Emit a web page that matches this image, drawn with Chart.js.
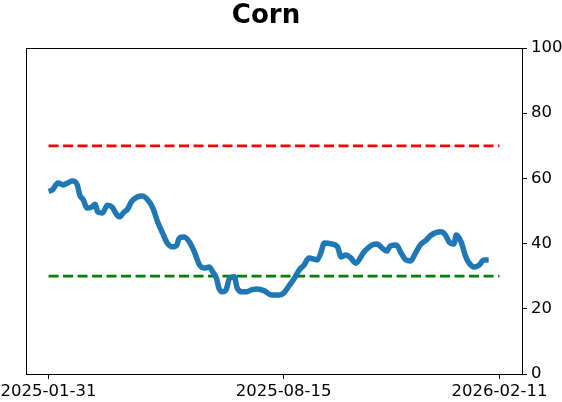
<!DOCTYPE html>
<html>
<head>
  <meta charset="UTF-8">
  <title>Corn</title>
  <script src="https://cdn.jsdelivr.net/npm/chart.js"></script>
  <style>
    html, body {
      margin: 0;
      padding: 0;
      background: #fff;
    }

    #wrap {
      width: 562px;
      height: 402px;
    }
  </style>
</head>
<body>
  <div id="wrap">
    <canvas id="cornChart" width="562" height="402"></canvas>
  </div>

  <script>
    // days counted from the first date
    const startDate = "2025-01-31";
    const days = [
      0, 3, 8, 12, 16, 20, 24, 26, 29, 32, 36, 39, 41, 45, 49, 53, 57, 59, 63, 66,
      69, 74, 78, 82, 87, 91, 95, 99, 103, 107, 109, 113, 118, 122, 126, 130, 134, 137, 140, 142,
      145, 148, 151, 155, 157, 161, 165, 169, 174, 180, 186, 192, 196, 201, 205, 209, 213, 217, 224, 227,
      230, 236, 241, 244, 248, 252, 256, 263, 270, 274, 278, 282, 285, 290, 294, 298, 302, 306, 310, 315,
      319, 327, 331, 334, 338, 340, 344, 348, 350, 355, 359, 363, 367
    ];
    const values = [
      56.1, 56.4, 58.6, 58.0, 58.6, 59.2, 58.0, 54.9, 53.4, 50.9, 51.2, 52.1, 49.7, 49.4, 51.8, 51.2, 48.8, 48.2, 49.7, 50.6,
      52.8, 54.3, 54.6, 53.7, 50.9, 46.6, 43.3, 40.2, 39.0, 39.6, 41.7, 42.0, 40.2, 37.1, 33.4, 32.5, 32.8, 31.3, 29.4, 26.4,
      25.2, 25.8, 29.4, 29.8, 26.7, 25.2, 25.2, 25.8, 26.1, 25.5, 24.2, 24.2, 24.8, 27.3, 29.4, 31.9, 33.4, 35.6, 35.0, 37.1,
      40.2, 39.9, 39.0, 35.9, 36.5, 35.6, 34.0, 37.4, 39.6, 39.9, 38.7, 37.7, 39.3, 39.6, 37.1, 35.0, 34.7, 37.1, 39.6, 41.1,
      42.6, 43.6, 42.6, 40.5, 39.9, 42.6, 40.5, 35.9, 34.4, 32.8, 33.4, 35.0, 35.0
    ];

    const upperLevel = 70;
    const lowerLevel = 30;
    const tickLabels = ["2025-01-31", "2025-08-15", "2026-02-11"];
    const chartTitle = "Corn";

    const dayMs = 86400000;
    const toDay = s => (Date.parse(s) - Date.parse(startDate)) / dayMs;
    const tickDays = tickLabels.map(toDay);
    const spanStart = tickDays[0];
    const spanEnd = tickDays[tickDays.length - 1];
    const margin = (spanEnd - spanStart) * 0.05;

    const font = "'DejaVu Sans', sans-serif";

    // matplotlib style box around the plot, plus the title
    const framePlugin = {
      id: "frame",
      afterDatasetsDraw(chart) {
        const a = chart.chartArea;
        const c = chart.ctx;
        c.save();
        c.strokeStyle = "#000";
        c.lineWidth = 1;
        c.strokeRect(Math.round(a.left) + 0.5, Math.round(a.top) + 0.5,
                     Math.round(a.right - a.left), Math.round(a.bottom - a.top));
        c.restore();
      },
      afterDraw(chart) {
        const c = chart.ctx;
        c.save();
        c.fillStyle = "#000";
        c.font = "bold 26px " + font;
        c.textAlign = "center";
        c.textBaseline = "alphabetic";
        c.fillText(chartTitle, 266, 23);
        c.restore();
      }
    };

    const ctx = document.getElementById("cornChart").getContext("2d");
    new Chart(ctx, {
      type: "scatter",
      data: {
        datasets: [
          {
            label: "Corn",
            data: days.map((d, i) => ({ x: d, y: values[i] })),
            borderColor: "#1f77b4",
            borderWidth: 5.5,
            showLine: true,
            pointRadius: 0,
            cubicInterpolationMode: "monotone",
            borderJoinStyle: "round",
            order: 1
          },
          {
            label: "upper",
            data: [{ x: spanStart, y: upperLevel }, { x: spanEnd, y: upperLevel }],
            borderColor: "#ff0000",
            borderWidth: 2.7,
            borderDash: [10, 4.5],
            showLine: true,
            pointRadius: 0,
            order: 2
          },
          {
            label: "lower",
            data: [{ x: spanStart, y: lowerLevel }, { x: spanEnd, y: lowerLevel }],
            borderColor: "#008000",
            borderWidth: 2.7,
            borderDash: [10, 4.5],
            showLine: true,
            pointRadius: 0,
            order: 2
          }
        ]
      },
      options: {
        responsive: false,
        animation: false,
        layout: {
          padding: { left: 26, right: 0, top: 48, bottom: 0 }
        },
        plugins: {
          legend: { display: false },
          tooltip: { enabled: false },
          title: { display: false }
        },
        scales: {
          x: {
            type: "linear",
            min: spanStart - margin,
            max: spanEnd + margin,
            border: { display: false },
            grid: {
              display: true,
              drawOnChartArea: false,
              drawTicks: true,
              tickLength: 5,
              color: "#000"
            },
            ticks: {
              color: "#000",
              padding: 3,
              maxRotation: 0,
              font: { family: font, size: 16.5 },
              callback: v => tickLabels[tickDays.indexOf(v)] || ""
            },
            afterBuildTicks: scale => {
              scale.ticks = tickDays.map(v => ({ value: v }));
            },
            afterFit: scale => {
              scale.height = 28;
              scale.paddingLeft = 0;
              scale.paddingRight = 0;
            }
          },
          y: {
            position: "right",
            min: 0,
            max: 100,
            border: { display: false },
            grid: {
              display: true,
              drawOnChartArea: false,
              drawTicks: true,
              tickLength: 5,
              color: "#000"
            },
            ticks: {
              stepSize: 20,
              color: "#000",
              padding: 4,
              font: { family: font, size: 16.5 }
            },
            afterFit: scale => {
              scale.width = 40;
              scale.paddingTop = 0;
              scale.paddingBottom = 0;
            }
          }
        }
      },
      plugins: [framePlugin]
    });
  </script>
</body>
</html>
